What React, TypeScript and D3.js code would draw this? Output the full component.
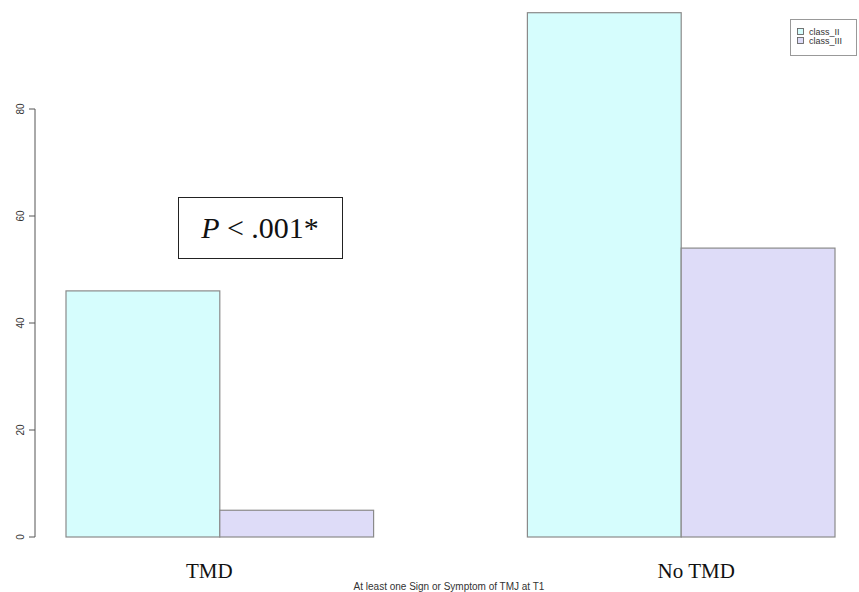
import React from "react";
import * as d3 from "d3";

const groups = ["TMD", "No TMD"];
const seriesNames = ["class_II", "class_III"];
const classII = [46, 98];
const classIII = [5, 54];
const yTicks = [0, 20, 40, 60, 80];
const colors = ["#d6fdfd", "#dedcf8"];

export default function App() {
  const W = 859, H = 592;
  // R-style bar units: bars at [1,2],[2,3] and [4,5],[5,6]
  const x = d3.scaleLinear().domain([1, 6]).range([66, 835]);
  const y = d3.scaleLinear().domain([0, 80]).range([537, 109]);
  const series = [classII, classIII];
  const bars: { x0: number; x1: number; v: number; c: string; k: string }[] = [];
  groups.forEach((g, gi) => {
    series.forEach((s, si) => {
      const start = 1 + gi * 3 + si;
      bars.push({ x0: x(start), x1: x(start + 1), v: s[gi], c: colors[si], k: g + si });
    });
  });
  const labelOffsets = [-10.5, 15];
  return (
    <svg width={W} height={H} style={{ position: "absolute", left: 0, top: 0, background: "#fff" }}>
      {bars.map((b) => (
        <rect key={b.k} x={b.x0} y={y(b.v)} width={b.x1 - b.x0} height={y(0) - y(b.v)}
          fill={b.c} stroke="#8a8a8a" strokeWidth={1.2} />
      ))}
      {/* y axis */}
      <line x1={35} x2={35} y1={y(0)} y2={y(80)} stroke="#555" strokeWidth={1} />
      {yTicks.map((t) => (
        <g key={t}>
          <line x1={29} x2={35} y1={y(t)} y2={y(t)} stroke="#555" strokeWidth={1} />
          <text transform={`translate(24,${y(t)}) rotate(-90)`} textAnchor="middle"
            fontFamily="Liberation Sans, Arial, sans-serif" fontSize={10} fill="#333">{t}</text>
        </g>
      ))}
      {/* group labels */}
      {groups.map((g, gi) => {
        const cx = x(2 + gi * 3) + labelOffsets[gi];
        return (
          <text key={g} x={cx} y={578} textAnchor="middle"
            fontFamily="Liberation Serif, Times New Roman, serif" fontSize={21} fill="#111">{g}</text>
        );
      })}
      <text x={449} y={590} textAnchor="middle" fontFamily="Liberation Sans, Arial, sans-serif"
        fontSize={10} fill="#333">At least one Sign or Symptom of TMJ at T1</text>
      {/* P box */}
      <rect x={178.5} y={197.5} width={164} height={61} fill="#fff" stroke="#222" strokeWidth={1} />
      <text x={260} y={238} textAnchor="middle" fontFamily="Liberation Serif, Times New Roman, serif"
        fontSize={30} fill="#111">
        <tspan fontStyle="italic">P</tspan> &lt; .001*
      </text>
      {/* legend */}
      <rect x={790.5} y={19.5} width={66} height={36} fill="#fff" stroke="#999" strokeWidth={1} />
      {seriesNames.map((s, si) => (
        <g key={s}>
          <rect x={797.5} y={28.5 + si * 9} width={6} height={6} fill={colors[si]} stroke="#666" strokeWidth={0.9} />
          <text x={809} y={35 + si * 9} fontFamily="Liberation Sans, Arial, sans-serif" fontSize={9} fill="#333">{s}</text>
        </g>
      ))}
    </svg>
  );
}
